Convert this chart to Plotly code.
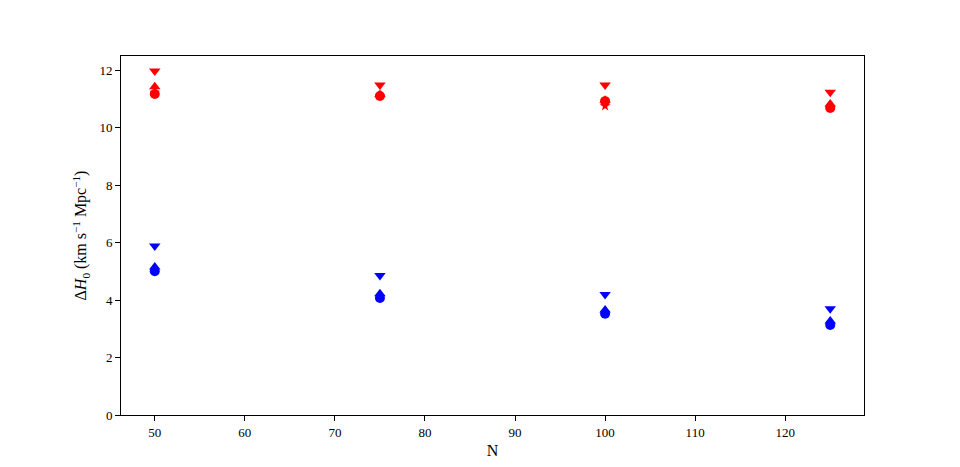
import plotly.graph_objects as go

N = [50, 75, 100, 125]

red_down = [11.97, 11.48, 11.48, 11.23]
red_up = [11.42, 11.15, 10.95, 10.82]
red_star = [11.22, 11.10, 10.75, 10.68]
red_circle = [11.17, 11.10, 10.92, 10.68]

blue_down = [5.88, 4.85, 4.19, 3.70]
blue_up = [5.15, 4.22, 3.65, 3.27]
blue_circle = [5.00, 4.07, 3.52, 3.13]

series = [
    (red_star, "red", "star", 8),
    (red_circle, "red", "circle", 10),
    (red_up, "red", "triangle-up", 10),
    (red_down, "red", "triangle-down", 10),
    (blue_circle, "blue", "circle", 10),
    (blue_up, "blue", "triangle-up", 10),
    (blue_down, "blue", "triangle-down", 10),
]

fig = go.Figure()
for vals, col, sym, sz in series:
    fig.add_trace(go.Scatter(
        x=N, y=vals, mode="markers",
        marker=dict(color=col, symbol=sym, size=sz, line=dict(width=0)),
        showlegend=False,
    ))

font = "Liberation Serif"
fig.update_layout(
    width=960, height=467,
    margin=dict(l=113, r=104, t=48, b=60),
    paper_bgcolor="white", plot_bgcolor="white",
    font=dict(family=font, size=13, color="black"),
)
fig.update_xaxes(
    range=[46.25, 128.75], tickvals=[50, 60, 70, 80, 90, 100, 110, 120],
    showgrid=False, zeroline=False, showline=True, linecolor="black", linewidth=1,
    mirror=True, ticks="outside", ticklen=5, tickcolor="black",
    tickfont=dict(color="black"),
    title=dict(text="N", standoff=6),
)
fig.update_yaxes(
    range=[0, 12.49], tickvals=[0, 2, 4, 6, 8, 10, 12],
    showgrid=False, zeroline=False, showline=True, linecolor="black", linewidth=1,
    mirror=True, ticks="outside", ticklen=5, tickcolor="black",
    tickfont=dict(color="black"),
    title=dict(text="Δ<i>H</i><sub>0</sub> (km s<sup>−1</sup> Mpc<sup>−1</sup>)", standoff=8),
)
fig.write_html("out.html")
